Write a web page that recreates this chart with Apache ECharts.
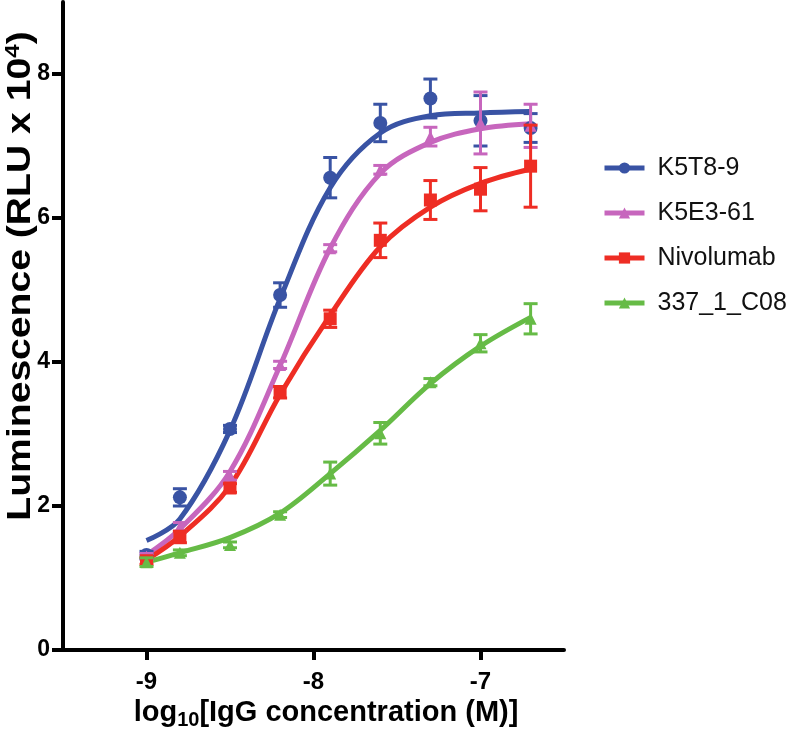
<!DOCTYPE html>
<html><head><meta charset="utf-8">
<script src="https://cdn.jsdelivr.net/npm/echarts@6/dist/echarts.min.js"></script>
<style>html,body{margin:0;padding:0;background:#fff}#c{width:800px;height:749px}</style>
</head><body><div id="c"></div>
<script>
// ---- data ----
const logConc = [-9, -8.8, -8.5, -8.2, -7.9, -7.6, -7.3, -7.0, -6.7];
const seriesNames = ['K5T8-9', 'K5E3-61', 'Nivolumab', '337_1_C08'];
const k5t8Mean  = [1.32, 2.12, 3.07, 4.93, 6.56, 7.32, 7.66, 7.35, 7.25];
const k5t8Err   = [0.05, 0.12, 0.05, 0.17, 0.28, 0.26, 0.27, 0.35, 0.20];
const k5t8Fit   = [1.52, 1.82, 3.05, 4.88, 6.42, 7.18, 7.42, 7.46, 7.48];
const k5e3Mean  = [1.30, 1.71, 2.42, 3.96, 5.58, 6.67, 7.13, 7.32, 7.28];
const k5e3Err   = [0.04, 0.06, 0.06, 0.05, 0.05, 0.06, 0.13, 0.43, 0.30];
const k5e3Fit   = [1.32, 1.68, 2.48, 3.95, 5.58, 6.62, 7.05, 7.24, 7.31];
const nivoMean  = [1.24, 1.57, 2.25, 3.58, 4.60, 5.69, 6.25, 6.40, 6.72];
const nivoErr   = [0.05, 0.08, 0.06, 0.08, 0.12, 0.24, 0.27, 0.30, 0.57];
const nivoFit   = [1.25, 1.58, 2.28, 3.55, 4.65, 5.60, 6.15, 6.48, 6.68];
const c08Mean   = [1.22, 1.35, 1.46, 1.88, 2.45, 3.01, 3.72, 4.26, 4.60];
const c08Err    = [0.06, 0.04, 0.04, 0.04, 0.16, 0.15, 0.05, 0.12, 0.21];
const c08Fit    = [1.22, 1.35, 1.56, 1.90, 2.45, 3.05, 3.70, 4.22, 4.62];
const xTicks = [-9, -8, -7];
const yTicks = [0, 2, 4, 6, 8];
const xMin = -9.5, xMax = -6.5, yMin = 0, yMax = 9;

const means = [k5t8Mean, k5e3Mean, nivoMean, c08Mean];
const errs = [k5t8Err, k5e3Err, nivoErr, c08Err];
const fits = [k5t8Fit, k5e3Fit, nivoFit, c08Fit];
const colors = ['#3953a4', '#c766bd', '#ee2d24', '#66bb46'];
const symbols = ['circle', 'triangle', 'rect', 'triangle'];
const symSizes = [14, 12, 13, 12];
const FONT = 'Liberation Sans, Arial, sans-serif';

const series = [];
seriesNames.forEach((name, i) => {
  series.push({
    name, type: 'line', smooth: 0.35, showSymbol: false,
    symbol: symbols[i], symbolSize: symSizes[i],
    itemStyle: {color: colors[i]},
    lineStyle: {color: colors[i], width: 5},
    data: logConc.map((x, j) => [x, fits[i][j]]),
    z: 2 + i
  });
});
seriesNames.forEach((name, i) => {
  series.push({
    name, type: 'custom',
    data: logConc.map((x, j) => [x, means[i][j], errs[i][j]]),
    renderItem: function (params, api) {
      const x = api.value(0), m = api.value(1), e = api.value(2);
      const top = api.coord([x, m + e]);
      const bot = api.coord([x, m - e]);
      const hw = 7;
      const st = {stroke: colors[i], lineWidth: 3};
      return {type: 'group', children: [
        {type: 'line', shape: {x1: top[0], y1: top[1], x2: bot[0], y2: bot[1]}, style: st},
        {type: 'line', shape: {x1: top[0] - hw, y1: top[1], x2: top[0] + hw, y2: top[1]}, style: st},
        {type: 'line', shape: {x1: bot[0] - hw, y1: bot[1], x2: bot[0] + hw, y2: bot[1]}, style: st}
      ]};
    },
    z: 10 + i
  });
  series.push({
    name, type: 'scatter', symbol: symbols[i], symbolSize: symSizes[i],
    itemStyle: {color: colors[i], opacity: 1},
    data: logConc.map((x, j) => [x, means[i][j]]),
    z: 10 + i
  });
});
// y-axis tick marks, placed through the axis scale
series.push({
  type: 'custom', silent: true, clip: false,
  data: yTicks.map(v => [xMin, v]),
  renderItem: function (params, api) {
    const p = api.coord([api.value(0), api.value(1)]);
    return {type: 'line', shape: {x1: p[0] - 11, y1: p[1], x2: p[0], y2: p[1]}, style: {stroke: '#000', lineWidth: 4}};
  },
  z: 20
});

const chart = echarts.init(document.getElementById('c'), null, {renderer: 'canvas'});
chart.setOption({
  animation: false,
  grid: {left: 63, right: 236, top: 2, bottom: 99},
  legend: {
    orient: 'vertical', left: 597, top: 150,
    itemWidth: 40, itemHeight: 14, itemGap: 19,
    data: seriesNames,
    lineStyle: {width: 5},
    textStyle: {fontFamily: FONT, fontSize: 25, color: '#111', padding: [0, 0, 0, 8], lineHeight: 26}
  },
  xAxis: {
    type: 'value', min: xMin, max: xMax,
    splitLine: {show: false},
    axisLine: {lineStyle: {color: '#000', width: 4}},
    axisTick: {show: true, length: 10, lineStyle: {color: '#000', width: 4}, customValues: xTicks},
    axisLabel: {customValues: xTicks, color: '#000', fontSize: 24, fontWeight: 'bold', fontFamily: FONT, margin: 20}
  },
  yAxis: {
    type: 'value', min: yMin, max: yMax,
    splitLine: {show: false},
    axisLine: {lineStyle: {color: '#000', width: 4}},
    axisTick: {show: true, length: 11, lineStyle: {color: '#000', width: 4}, customValues: yTicks},
    axisLabel: {customValues: yTicks, color: '#000', fontSize: 23, fontWeight: 'bold', fontFamily: FONT, margin: 13}
  },
  graphic: [
    {type: 'text', x: 326, y: 713, style: {
      text: '{a|log}{s|10}{a|[IgG concentration (M)]}', align: 'center', verticalAlign: 'middle',
      rich: {
        a: {fontSize: 29, fontWeight: 'bold', fontFamily: FONT, fill: '#000'},
        s: {fontSize: 20, fontWeight: 'bold', fontFamily: FONT, fill: '#000', padding: [14, 0, 0, 0]}
      }
    }},
    {type: 'text', x: 21, y: 276, rotation: Math.PI / 2, scaleX: 1.15, style: {
      text: '{a|Luminescence (RLU x 10}{s|4}{a|)}', align: 'center', verticalAlign: 'middle',
      rich: {
        a: {fontSize: 34, fontWeight: 'bold', fontFamily: FONT, fill: '#000'},
        s: {fontSize: 21, fontWeight: 'bold', fontFamily: FONT, fill: '#000', padding: [0, 0, 16, 0]}
      }
    }}
  ],
  series
});
</script>
</body></html>
